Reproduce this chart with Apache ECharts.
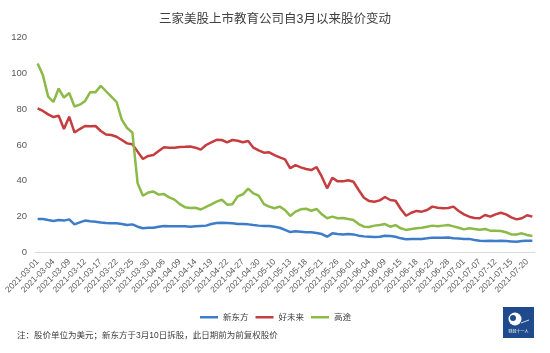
<!DOCTYPE html>
<html>
<head>
<meta charset="utf-8">
<script src="https://cdn.jsdelivr.net/npm/echarts@6/dist/echarts.min.js"></script>
<style>
  html, body { margin: 0; padding: 0; background: #ffffff; }
  #main { width: 550px; height: 353px; }
</style>
</head>
<body>
<div id="main"></div>
<script>
// trading days shown on the category axis (every 3rd one gets a label)
var dates = [
    '2021-03-01', '2021-03-02', '2021-03-03', '2021-03-04', '2021-03-05', '2021-03-08',
    '2021-03-09', '2021-03-10', '2021-03-11', '2021-03-12', '2021-03-15', '2021-03-16',
    '2021-03-17', '2021-03-18', '2021-03-19', '2021-03-22', '2021-03-23', '2021-03-24',
    '2021-03-25', '2021-03-26', '2021-03-29', '2021-03-30', '2021-03-31', '2021-04-05',
    '2021-04-06', '2021-04-07', '2021-04-08', '2021-04-09', '2021-04-12', '2021-04-13',
    '2021-04-14', '2021-04-15', '2021-04-16', '2021-04-19', '2021-04-20', '2021-04-21',
    '2021-04-22', '2021-04-23', '2021-04-26', '2021-04-27', '2021-04-28', '2021-04-29',
    '2021-04-30', '2021-05-06', '2021-05-07', '2021-05-10', '2021-05-11', '2021-05-12',
    '2021-05-13', '2021-05-14', '2021-05-17', '2021-05-18', '2021-05-19', '2021-05-20',
    '2021-05-21', '2021-05-24', '2021-05-25', '2021-05-26', '2021-05-27', '2021-05-28',
    '2021-06-01', '2021-06-02', '2021-06-03', '2021-06-04', '2021-06-07', '2021-06-08',
    '2021-06-09', '2021-06-10', '2021-06-14', '2021-06-15', '2021-06-16', '2021-06-17',
    '2021-06-18', '2021-06-21', '2021-06-22', '2021-06-23', '2021-06-24', '2021-06-25',
    '2021-06-28', '2021-06-29', '2021-06-30', '2021-07-01', '2021-07-02', '2021-07-06',
    '2021-07-07', '2021-07-08', '2021-07-09', '2021-07-12', '2021-07-13', '2021-07-14',
    '2021-07-15', '2021-07-16', '2021-07-19', '2021-07-20', '2021-07-21'
];

var seriesNames = ['新东方', '好未来', '高途'];

// 新东方 (price in USD, split-adjusted)
var edu = [
    18.7, 18.7, 18.1, 17.6, 18.1, 17.8, 18.5, 15.7, 16.8, 17.8, 17.4, 17.2,
    16.8, 16.5, 16.3, 16.3, 15.9, 15.3, 15.7, 14.4, 13.5, 13.8, 13.8, 14.4,
    14.8, 14.6, 14.6, 14.6, 14.6, 14.4, 14.6, 14.8, 15.0, 15.9, 16.5, 16.6,
    16.5, 16.3, 15.9, 15.9, 15.7, 15.3, 15.0, 14.8, 14.8, 14.4, 13.8, 12.6,
    11.4, 11.8, 11.6, 11.3, 11.3, 10.9, 10.3, 8.8, 10.7, 10.3, 10.1, 10.3,
    10.1, 9.4, 9.0, 8.8, 8.6, 8.8, 9.4, 9.2, 8.8, 7.9, 7.4, 7.6,
    7.6, 7.6, 7.9, 8.3, 8.3, 8.3, 8.4, 8.0, 7.8, 7.6, 7.6, 7.0,
    6.6, 6.4, 6.6, 6.4, 6.6, 6.4, 6.2, 6.0, 6.4, 6.6, 6.6
];

// 好未来
var tal = [
    80.5, 79.0, 77.1, 75.6, 76.3, 68.9, 75.8, 67.0, 68.9, 70.6, 70.4, 70.6,
    67.8, 65.9, 65.6, 64.6, 62.8, 60.9, 60.4, 56.3, 52.2, 53.9, 54.4, 56.6,
    58.7, 58.5, 58.5, 58.9, 59.0, 59.2, 58.5, 57.4, 60.0, 61.5, 62.9, 62.8,
    61.5, 62.8, 62.4, 61.5, 62.2, 58.5, 57.0, 55.7, 55.9, 54.4, 53.1, 52.0,
    47.0, 48.8, 47.5, 46.6, 46.0, 47.7, 42.3, 35.8, 41.7, 39.7, 39.7, 40.3,
    39.5, 34.9, 30.6, 28.7, 28.3, 29.1, 31.0, 29.3, 28.9, 24.3, 20.5, 22.2,
    23.2, 22.8, 23.7, 25.6, 25.0, 24.7, 24.8, 25.6, 23.2, 21.3, 20.0, 19.3,
    19.1, 20.9, 20.0, 21.3, 22.2, 21.3, 19.6, 18.5, 19.1, 20.8, 20.0
];

// 高途
var gotu = [
    105.5, 99.0, 87.0, 84.0, 91.5, 86.5, 89.0, 81.5, 82.5, 84.5, 89.5, 89.5,
    93.0, 90.0, 87.0, 84.0, 74.0, 69.5, 67.0, 38.6, 31.7, 33.5, 34.0, 32.3,
    32.6, 30.8, 29.5, 27.0, 25.3, 24.8, 25.0, 24.0, 25.5, 26.9, 28.4, 29.5,
    26.7, 26.9, 31.3, 32.5, 35.6, 33.0, 31.7, 27.0, 25.6, 24.7, 25.6, 23.7,
    20.4, 22.8, 24.1, 24.4, 23.3, 24.3, 21.3, 19.1, 20.0, 19.1, 19.3, 18.7,
    18.1, 15.9, 14.4, 14.2, 15.0, 15.3, 15.9, 14.4, 15.3, 13.5, 12.6, 13.1,
    13.5, 13.8, 14.4, 15.0, 14.6, 15.0, 15.3, 14.6, 13.8, 12.9, 13.5, 13.1,
    12.7, 13.1, 12.2, 12.2, 12.0, 11.3, 10.1, 10.1, 10.7, 9.8, 9.2
];

var colors = ['#3d7cc9', '#c53d3f', '#8cba48'];
var fontFamily = "'Liberation Sans', 'Noto Sans CJK SC', sans-serif";

var myChart = echarts.init(document.getElementById('main'));

function lineSeries(name, data, color) {
    return {
        name: name,
        type: 'line',
        data: data,
        showSymbol: false,
        symbol: 'none',
        silent: true,
        lineStyle: { color: color, width: 2.5 },
        itemStyle: { color: color }
    };
}

var option = {
    animation: false,
    textStyle: { fontFamily: fontFamily },
    title: {
        text: '三家美股上市教育公司自3月以来股价变动',
        left: 'center',
        top: 8,
        textStyle: {
            color: '#404040',
            fontSize: 12.5,
            fontWeight: 'normal',
            fontFamily: fontFamily
        }
    },
    legend: {
        data: seriesNames,
        left: 195,
        top: 308,
        icon: 'rect',
        itemWidth: 18,
        itemHeight: 2.5,
        itemGap: 7,
        textStyle: { color: '#404040', fontSize: 8.5, fontFamily: fontFamily }
    },
    grid: {
        left: 35,
        right: 15,
        top: 37.5,
        bottom: 100.5,
        containLabel: false
    },
    xAxis: {
        type: 'category',
        data: dates,
        boundaryGap: true,
        axisLine: { show: true, lineStyle: { color: '#d9d9d9', width: 1 } },
        axisTick: { show: false },
        axisLabel: {
            interval: 2,
            rotate: 45,
            margin: 8,
            color: '#595959',
            fontSize: 8.5,
            fontFamily: fontFamily
        },
        splitLine: { show: false }
    },
    yAxis: {
        type: 'value',
        min: 0,
        max: 120,
        interval: 20,
        axisLine: { show: false },
        axisTick: { show: false },
        axisLabel: { color: '#595959', fontSize: 9.5, margin: 8, fontFamily: fontFamily },
        splitLine: { show: false }
    },
    series: [
        lineSeries(seriesNames[0], edu, colors[0]),
        lineSeries(seriesNames[1], tal, colors[1]),
        lineSeries(seriesNames[2], gotu, colors[2])
    ],
    graphic: [
        {
            type: 'text',
            left: 17,
            top: 331,
            style: {
                text: '注：股价单位为美元；新东方于3月10日拆股，此日期前为前复权股价',
                fill: '#404040',
                fontSize: 8.5,
                fontFamily: fontFamily
            }
        },
        {
            // publisher logo, bottom right
            type: 'group',
            left: 503,
            top: 307,
            children: [
                { type: 'rect', shape: { x: 0, y: 0, width: 31, height: 31 }, style: { fill: '#1f4a8c' } },
                { type: 'circle', shape: { cx: 12, cy: 12, r: 6.5 }, style: { fill: '#ffffff' } },
                { type: 'circle', shape: { cx: 10, cy: 11, r: 3 }, style: { fill: '#1f4a8c' } },
                { type: 'line', shape: { x1: 18, y1: 16, x2: 26, y2: 13 }, style: { stroke: '#ffffff', lineWidth: 0.8 } },
                {
                    type: 'text',
                    x: 15.5,
                    y: 23,
                    style: {
                        text: '财经十一人',
                        fill: '#ffffff',
                        fontSize: 4,
                        align: 'center',
                        fontFamily: fontFamily
                    }
                }
            ]
        }
    ]
};

myChart.setOption(option);
</script>
</body>
</html>
